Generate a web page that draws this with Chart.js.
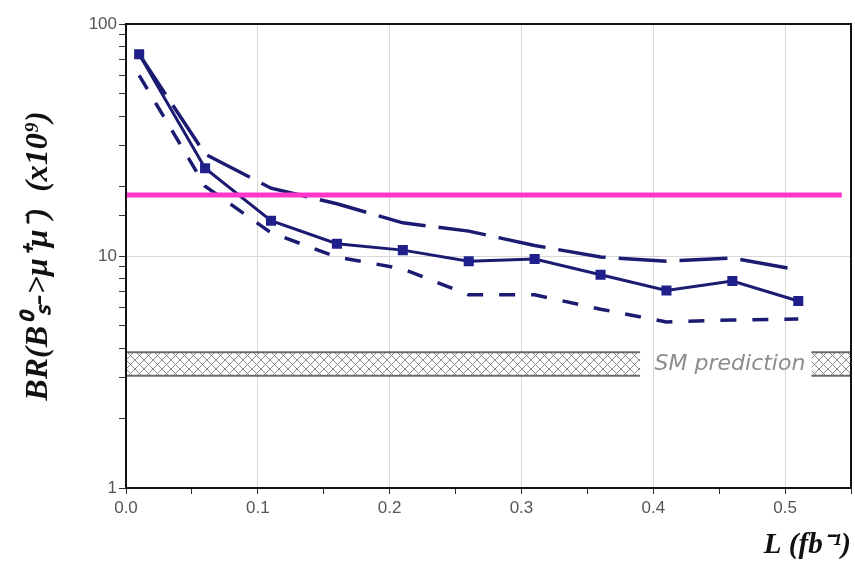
<!DOCTYPE html>
<html>
<head>
<meta charset="utf-8">
<script src="https://cdn.jsdelivr.net/npm/chart.js@4"></script>
<style>
  html, body { margin: 0; padding: 0; background: #fff; }
  #wrap { width: 855px; height: 563px; position: relative; }
</style>
</head>
<body>
<div id="wrap"><canvas id="brChart"></canvas></div>
<script>
// luminosity points (fb^-1)
const lumi = [0.01, 0.06, 0.11, 0.16, 0.21, 0.26, 0.31, 0.36, 0.41, 0.46, 0.51];
// expected limit, median and band edges (x10^9)
const limitMedian = [74, 23.9, 14.2, 11.3, 10.6, 9.5, 9.7, 8.3, 7.1, 7.8, 6.4];
const limitUpper = [74, 27.5, 19.6, 16.8, 13.9, 12.8, 11.1, 9.9, 9.5, 9.8, 8.7];
const limitLower = [60, 20.0, 12.6, 9.9, 8.8, 6.8, 6.8, 5.9, 5.2, 5.3, 5.35];
// SM prediction band
const smLow = 3.05;
const smHigh = 3.85;
const smRanges = [[0, 0.39], [0.52, 0.55]];
// pink reference line
const refLevel = 18.3;
const refRange = [0, 0.543];
// tick labels
const xTickLabels = ['0.0', '0.1', '0.2', '0.3', '0.4', '0.5'];
const yTickLabels = ['1', '10', '100'];

const navy = '#1b1b72';

// hatch pattern for SM band
function hatch() {
    const c = document.createElement('canvas');
    c.width = 9; c.height = 9;
    const g = c.getContext('2d');
    g.fillStyle = '#fff';
    g.fillRect(0, 0, 9, 9);
    g.strokeStyle = '#8a8a8a';
    g.lineWidth = 1;
    g.beginPath();
    g.moveTo(0, 0); g.lineTo(9, 9);
    g.moveTo(9, 0); g.lineTo(0, 9);
    g.stroke();
    return g.createPattern(c, 'repeat');
}
const hatchFill = hatch();

const pts = arr => lumi.map((x, i) => ({ x: x, y: arr[i] }));

const bandSets = [];
smRanges.forEach(r => {
    bandSets.push({
        label: 'smTop', data: r.map(x => ({ x: x, y: smHigh })),
        borderColor: '#6a6a6a', borderWidth: 2, pointRadius: 0, fill: false
    });
    bandSets.push({
        label: 'smBot', data: r.map(x => ({ x: x, y: smLow })),
        borderColor: '#6a6a6a', borderWidth: 2, pointRadius: 0,
        fill: '-1', backgroundColor: hatchFill
    });
});

// frame + SM label
const extras = {
    id: 'extras',
    beforeDatasetsDraw(chart) {
        const { ctx, scales } = chart;
        ctx.save();
        ctx.font = 'italic 22px "DejaVu Sans"';
        ctx.fillStyle = '#8c8c8c';
        ctx.textBaseline = 'middle';
        ctx.fillText('SM prediction', scales.x.getPixelForValue(0.401), scales.y.getPixelForValue(3.42));
        ctx.restore();
    },
    afterDraw(chart) {
        const a = chart.chartArea;
        const ctx = chart.ctx;
        ctx.save();
        ctx.strokeStyle = '#111';
        ctx.lineWidth = 2;
        ctx.strokeRect(a.left, a.top, a.right - a.left, a.bottom - a.top);
        ctx.restore();
    }
};

new Chart(document.getElementById('brChart'), {
    type: 'line',
    data: {
        datasets: [
            {
                label: 'ref', data: refRange.map(x => ({ x: x, y: refLevel })),
                borderColor: '#ff36c9', borderWidth: 5, pointRadius: 0
            },
            {
                label: 'median', data: pts(limitMedian),
                borderColor: navy, borderWidth: 3,
                pointStyle: 'rect', pointRadius: 5,
                pointBackgroundColor: '#20208c', pointBorderColor: '#20208c'
            },
            {
                label: 'upper', data: pts(limitUpper),
                borderColor: navy, borderWidth: 3.5, borderDash: [48, 13], pointRadius: 0
            },
            {
                label: 'lower', data: pts(limitLower),
                borderColor: navy, borderWidth: 3.5, borderDash: [16, 16], pointRadius: 0
            },
            ...bandSets
        ]
    },
    options: {
        responsive: true,
        maintainAspectRatio: false,
        animation: false,
        layout: { autoPadding: false, padding: { top: 24, right: 2, left: 0, bottom: 0 } },
        plugins: { legend: { display: false }, tooltip: { enabled: false } },
        scales: {
            x: {
                type: 'linear', min: 0, max: 0.55,
                border: { color: '#111', width: 2 },
                grid: {
                    color: c => (Math.round(c.tick.value * 100) % 10 === 0 && c.tick.value > 0 && c.tick.value < 0.55) ? '#d8d8d8' : 'rgba(0,0,0,0)',
                    tickColor: '#333', tickLength: 6
                },
                ticks: {
                    stepSize: 0.05, color: '#555', padding: 4, maxRotation: 0,
                    font: { family: '"Liberation Sans"', size: 17 },
                    callback: v => {
                        const k = Math.round(v * 10);
                        return Math.abs(v * 10 - k) < 1e-6 ? xTickLabels[k] || '' : '';
                    }
                },
                title: {
                    display: true, text: 'L (fb⁻¹)', align: 'end', color: '#111',
                    font: { family: '"Liberation Serif"', size: 29, style: 'italic', weight: 'bold' },
                    padding: { top: 6, bottom: 0 }
                },
                afterFit: s => { s.height = 75; }
            },
            y: {
                type: 'logarithmic', min: 1, max: 100,
                border: { color: '#111', width: 2 },
                grid: {
                    color: c => c.tick.value === 10 ? '#d8d8d8' : 'rgba(0,0,0,0)',
                    tickColor: '#333', tickLength: 7
                },
                ticks: {
                    color: '#555', padding: 2,
                    font: { family: '"Liberation Sans"', size: 17 },
                    callback: v => {
                        const i = [1, 10, 100].indexOf(v);
                        return i >= 0 ? yTickLabels[i] : '';
                    }
                },
                title: {
                    display: true, text: 'BR(B⁰ₛ->μ⁺μ⁻)  (x10⁹)', color: '#111',
                    font: { family: '"Liberation Serif"', size: 32, style: 'italic', weight: 'bold' },
                    padding: { top: 20, bottom: 0 }
                },
                afterFit: s => { s.width = 126; }
            }
        }
    },
    plugins: [extras]
});
</script>
</body>
</html>
